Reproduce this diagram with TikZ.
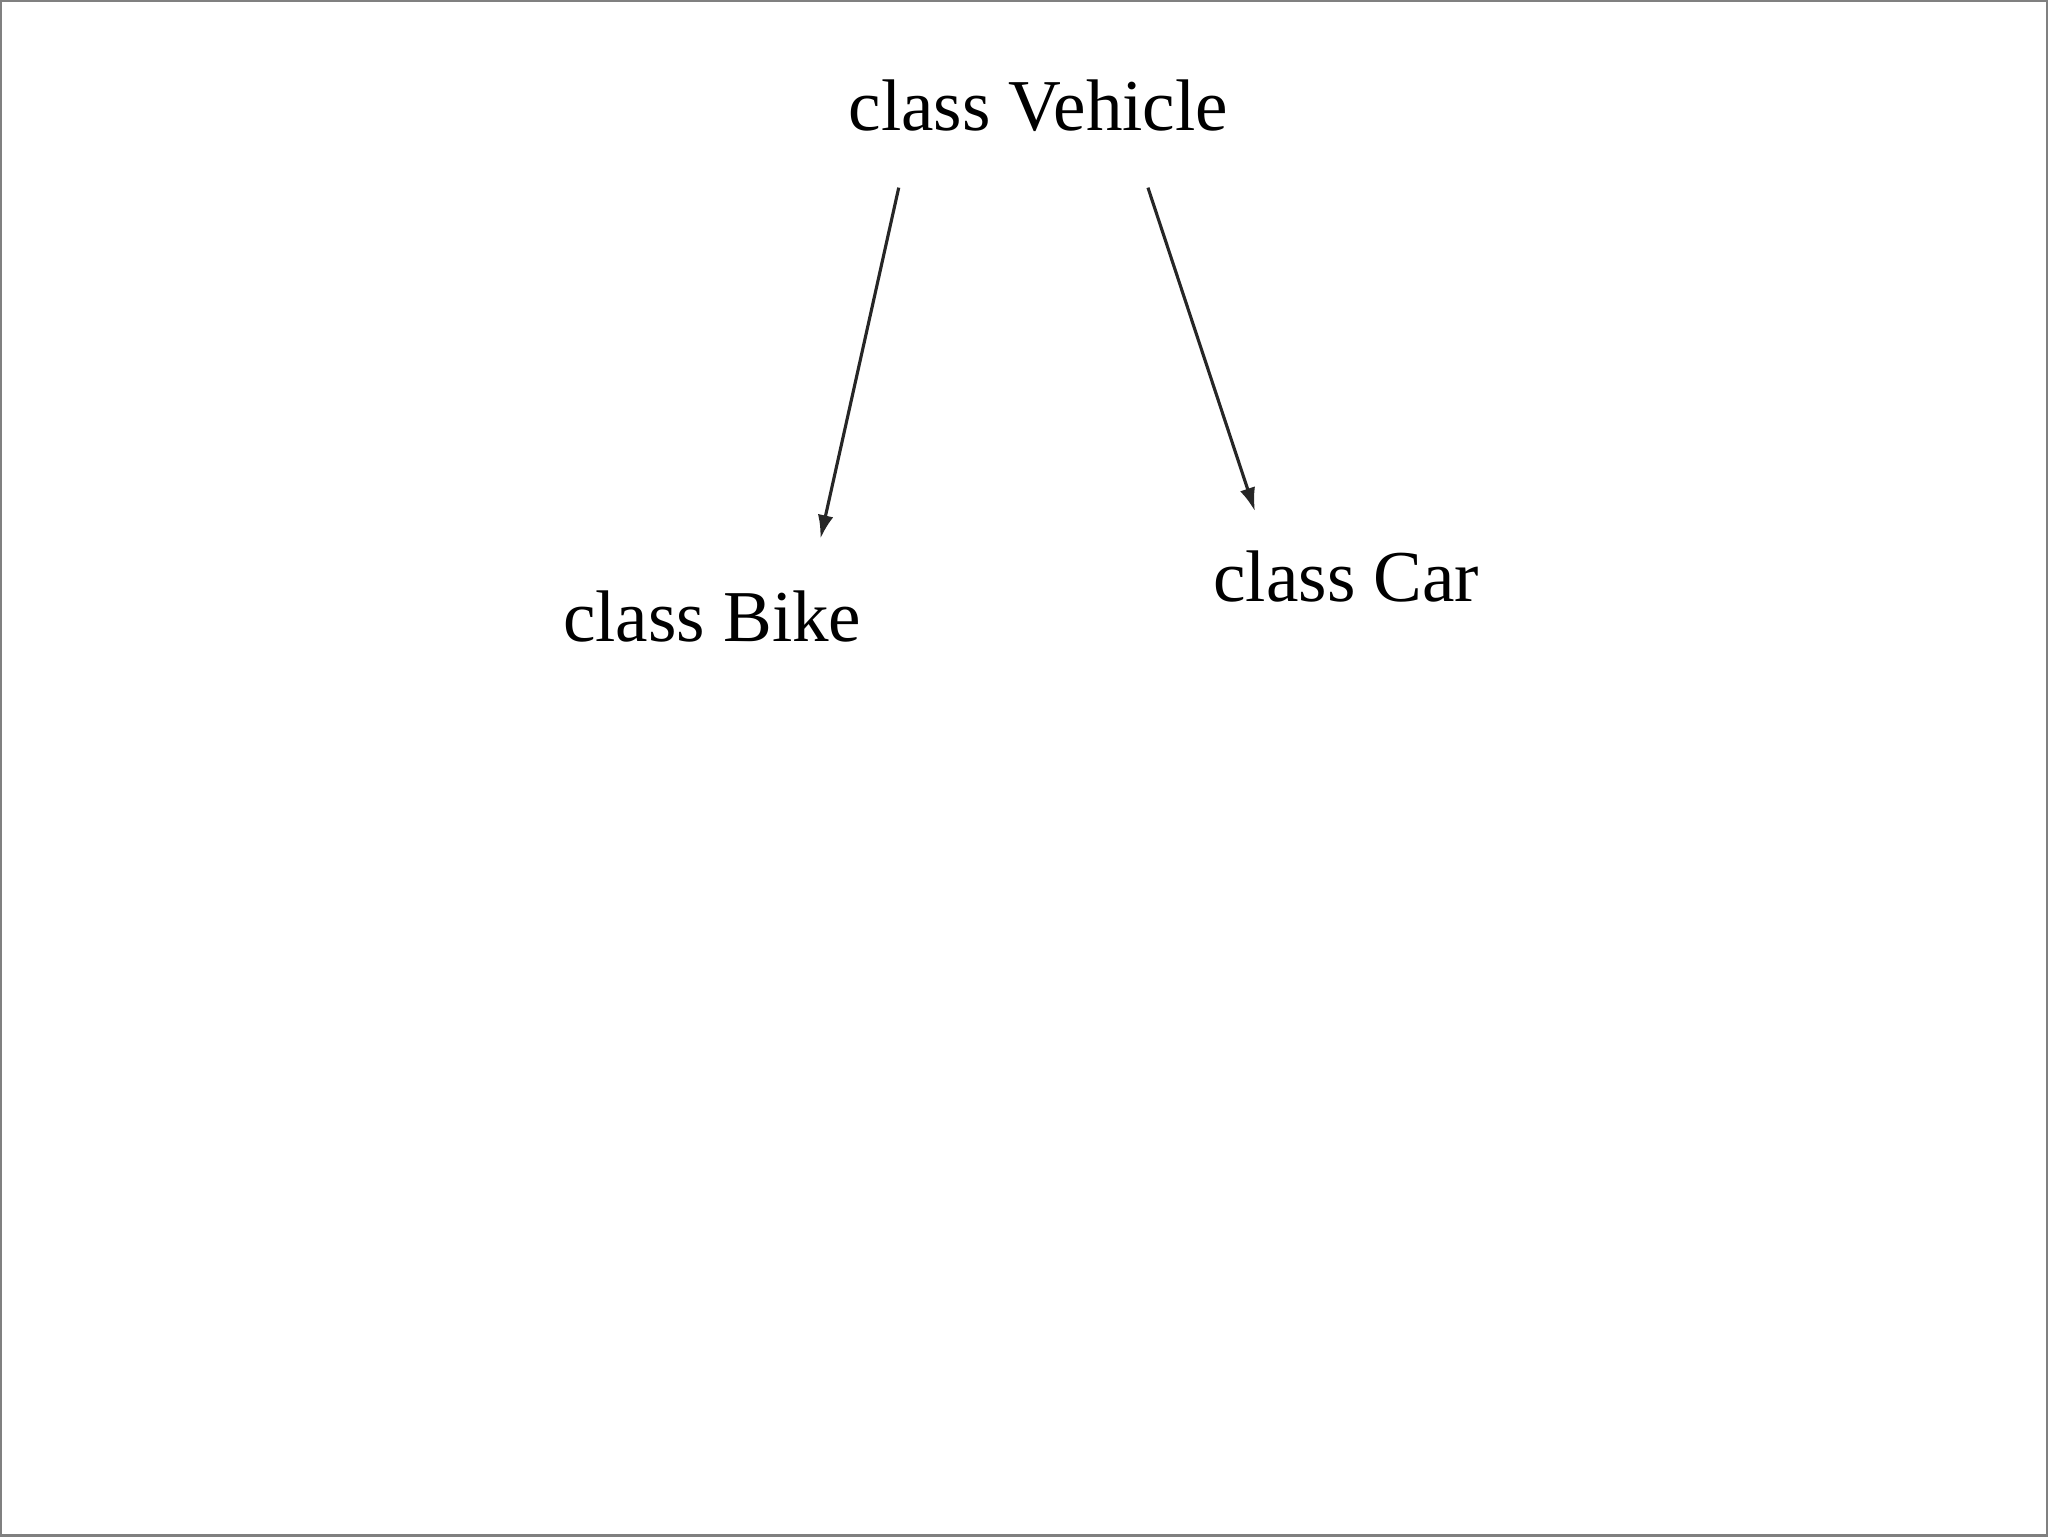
\documentclass[tikz,border=0pt]{standalone}
\usepackage{fontspec}
\setmainfont{Liberation Serif}
\usetikzlibrary{arrows.meta}
\begin{document}
\begin{tikzpicture}[x=0.5pt,y=-0.5pt,
  lbl/.style={font=\fontsize{28}{32}\selectfont,inner sep=0pt},
  arr/.style={draw=black!85,line width=1.2pt,-{Latex[length=9pt,width=6pt]}}]
\draw[gray,line width=0.8pt] (0,0) rectangle (1568,1176);
\useasboundingbox (0,0) rectangle (1568,1176);
\node[lbl] (veh) at (795,80) {class Vehicle};
\node[lbl] (bike) at (545,472) {class Bike};
\node[lbl] (car) at (1031,441) {class Car};
\coordinate (a1) at (688,143);
\coordinate (a2) at (879,143);
\coordinate (b1) at (628,412);
\coordinate (c1) at (961,391);
\draw[arr] (a1) -- (b1);
\draw[arr] (a2) -- (c1);
\end{tikzpicture}
\end{document}
